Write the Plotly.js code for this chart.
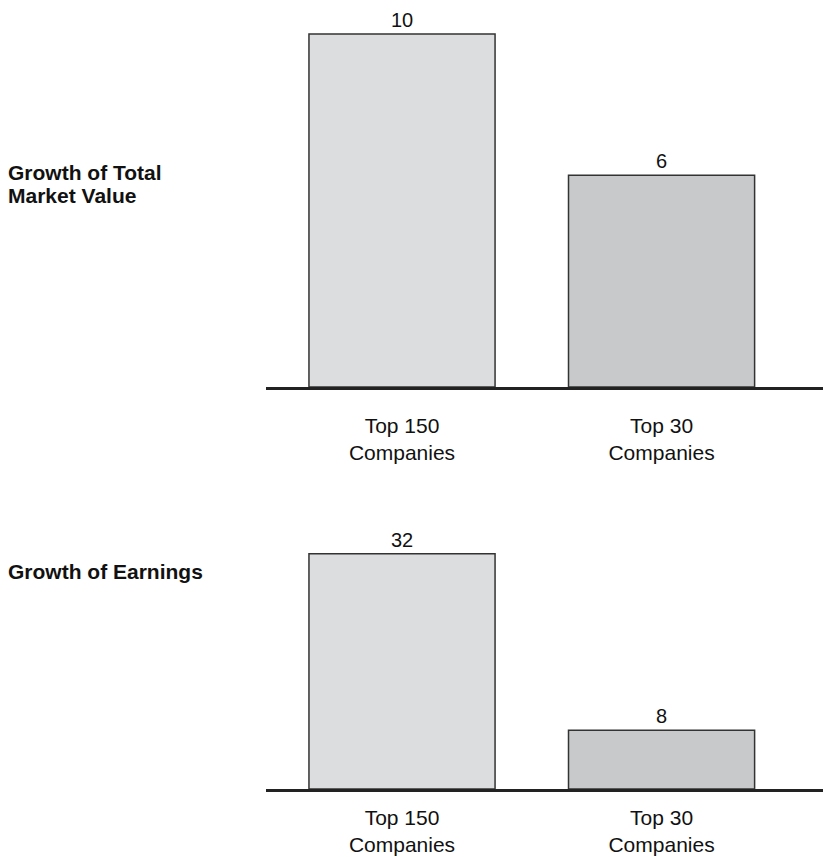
<!DOCTYPE html>
<html>
<head>
<meta charset="utf-8">
<script src="https://cdn.plot.ly/plotly-3.0.1.min.js"></script>
<style>html,body{margin:0;padding:0;background:#fff;}#chart{width:823px;height:857px;}</style>
</head>
<body>
<div id="chart"></div>
<script>
const categories = ["Top 150<br>Companies", "Top 30<br>Companies"];
const marketValueGrowth = [10, 6];
const earningsGrowth = [32, 8];
const panelTitleLines = [["Growth of Total", "Market Value"], ["Growth of Earnings"]];
const barColors = ["#dcdddf", "#c8c9cb"];

const font = "Liberation Sans, Arial, Helvetica, sans-serif";

const traces = [
  {
    type: "bar", x: categories, y: marketValueGrowth, xaxis: "x", yaxis: "y",
    text: marketValueGrowth.map(String), textposition: "outside", cliponaxis: false,
    textfont: {family: font, size: 20, color: "#111"},
    marker: {color: barColors, line: {color: "#333", width: 1.5}},
    width: 0.717, hoverinfo: "skip", showlegend: false
  },
  {
    type: "bar", x: categories, y: earningsGrowth, xaxis: "x2", yaxis: "y2",
    text: earningsGrowth.map(String), textposition: "outside", cliponaxis: false,
    textfont: {family: font, size: 20, color: "#111"},
    marker: {color: barColors, line: {color: "#333", width: 1.5}},
    width: 0.717, hoverinfo: "skip", showlegend: false
  }
];

const xCommon = {
  type: "category", range: [-0.524, 1.622], domain: [266/823, 1],
  showline: true, linecolor: "#222", linewidth: 2.5, showgrid: false, zeroline: false,
  ticks: "", tickfont: {family: font, size: 21, color: "#111"}, fixedrange: true
};

const titleFont = {family: font, size: 21, color: "#111"};
function titleAnn(text, yPx) {
  return {xref: "paper", yref: "paper", x: 6/823, y: 1 - yPx/857, xanchor: "left", yanchor: "middle",
    align: "left", text: "<b>" + text + "</b>", showarrow: false, font: titleFont};
}

const layout = {
  width: 823, height: 857,
  margin: {l: 0, r: 0, t: 0, b: 0},
  paper_bgcolor: "#fff", plot_bgcolor: "#fff",
  xaxis: Object.assign({}, xCommon, {anchor: "y", ticklabelstandoff: 18}),
  xaxis2: Object.assign({}, xCommon, {anchor: "y2", ticklabelstandoff: 8}),
  yaxis: {domain: [(857-387)/857, 1], range: [0, 387/35.3], visible: false, fixedrange: true},
  yaxis2: {domain: [(857-789)/857, (857-470)/857], range: [0, 319/7.35], visible: false, fixedrange: true},
  annotations: [
    titleAnn(panelTitleLines[0][0], 173),
    titleAnn(panelTitleLines[0][1], 195),
    titleAnn(panelTitleLines[1][0], 571)
  ]
};

Plotly.newPlot("chart", traces, layout, {displayModeBar: false, staticPlot: true});
</script>
</body>
</html>
